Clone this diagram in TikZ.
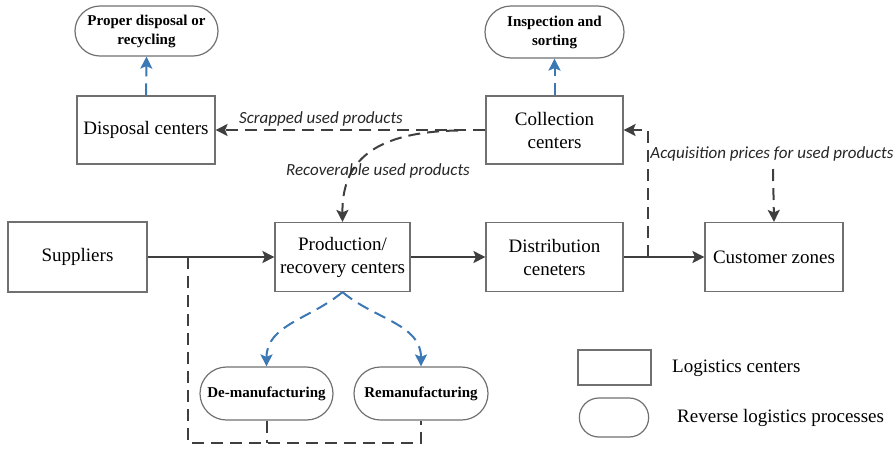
\documentclass[tikz,border=0pt]{standalone}
\usepackage{fontspec}
\setmainfont{Liberation Serif}
\newfontfamily\labfont{Carlito}
\newfontfamily\boxfont{Liberation Serif}
\usetikzlibrary{arrows.meta,shapes.misc}
\definecolor{edge}{HTML}{707070}
\definecolor{flow}{HTML}{3F3F3F}
\definecolor{rev}{HTML}{3B78B4}
\tikzset{
  x=1pt, y=-1pt,
  hub/.style={draw=edge, line width=1.2pt, rectangle, align=center,
    font=\boxfont\fontsize{19}{23}\selectfont, inner sep=2pt},
  process/.style={draw=edge, line width=1.2pt, rounded rectangle, align=center,
    font=\boxfont\fontsize{15}{19}\selectfont\bfseries, inner sep=2pt},
  tip/.style={-{Stealth[length=12pt,width=12pt,inset=2.5pt]}},
  solidflow/.style={draw=flow, line width=2pt},
  dashflow/.style={draw=flow, line width=2pt, dash pattern=on 12pt off 7pt},
  revflow/.style={draw=rev, line width=2pt, dash pattern=on 12pt off 7pt,
    -{Stealth[length=12pt,width=12pt,inset=2.5pt]}},
  lab/.style={font=\labfont\itshape\fontsize{17}{20}\selectfont, text=black!85, inner sep=1pt},
  legendtext/.style={font=\boxfont\fontsize{19}{23}\selectfont, anchor=west, inner sep=0pt}
}
\begin{document}
\begin{tikzpicture}
\useasboundingbox (0,0) rectangle (894,448);

% logistics centers
\node[hub, minimum width=138pt, minimum height=68pt] (disp) at (146,130) {Disposal centers};
\node[hub, minimum width=137pt, minimum height=68pt] (coll) at (554.5,130) {Collection\\centers};
\node[hub, minimum width=139pt, minimum height=70pt] (supp) at (77.5,257) {Suppliers};
\node[hub, minimum width=135pt, minimum height=69pt] (prod) at (342.5,257) {Production/\\recovery centers};
\node[hub, minimum width=137pt, minimum height=69pt] (dist) at (554.5,257) {Distribution\\ceneters};
\node[hub, minimum width=138pt, minimum height=69pt] (cust) at (774,257) {Customer zones};

% reverse logistics processes
\node[process, minimum width=147pt, minimum height=50pt] (recy) at (146.5,31) {Proper disposal or\\recycling};
\node[process, minimum width=143pt, minimum height=52pt] (insp) at (554.5,32) {Inspection and\\sorting};
\node[process, minimum width=137pt, minimum height=53pt] (deman) at (266.5,393.5) {De-manufacturing};
\node[process, minimum width=138pt, minimum height=53pt] (reman) at (421,393.5) {Remanufacturing};

% forward flows
\draw[solidflow, tip] (supp.east) -- (prod.west);
\draw[solidflow, tip] (prod.east) -- (dist.west);
\draw[solidflow, tip] (dist.east) -- (cust.west);

% supply of recovered parts
\coordinate (split) at (188,257);
\coordinate (low) at (188,443);
\draw[dashflow] (split) -- (low) -| (reman.south);
\draw[dashflow] (deman.south) -- (deman.south |- low);

% return flows
\coordinate (ret) at (648,257);
\draw[dashflow, tip] (ret) |- (coll.east);
\draw[dashflow, tip] (coll.west) -- (disp.east);
\coordinate (fork) at (458,130.5);
\draw[dashflow, tip] (fork) .. controls (365,132) and (342,168) .. (prod.north);
\coordinate (price) at (773,169);
\draw[dashflow, tip] (price) -- (cust.north);

% flow labels
\node[lab] (scrap) at (321,119) {Scrapped used products};
\node[lab] (recov) at (378,171) {Recoverable used products};
\node[lab] (acq) at (772,154) {Acquisition prices for used products};

% reverse logistics operations
\draw[revflow] (disp.north) -- (recy.south);
\draw[revflow] (coll.north) -- (insp.south);
\draw[revflow] (prod.south) to[out=-140, in=90] (deman.north);
\draw[revflow] (prod.south) to[out=-40, in=90] (reman.north);

% legend
\node[draw=edge, line width=1.2pt, rectangle, minimum width=73pt, minimum height=35pt] (keybox) at (614.5,367.5) {};
\node[draw=edge, line width=1.2pt, rounded rectangle, minimum width=76pt, minimum height=39pt] (keypill) at (614,417.5) {};
\node[legendtext] (keybt) at (672,368) {Logistics centers};
\node[legendtext] (keypt) at (677,418) {Reverse logistics processes};
\end{tikzpicture}
\end{document}
